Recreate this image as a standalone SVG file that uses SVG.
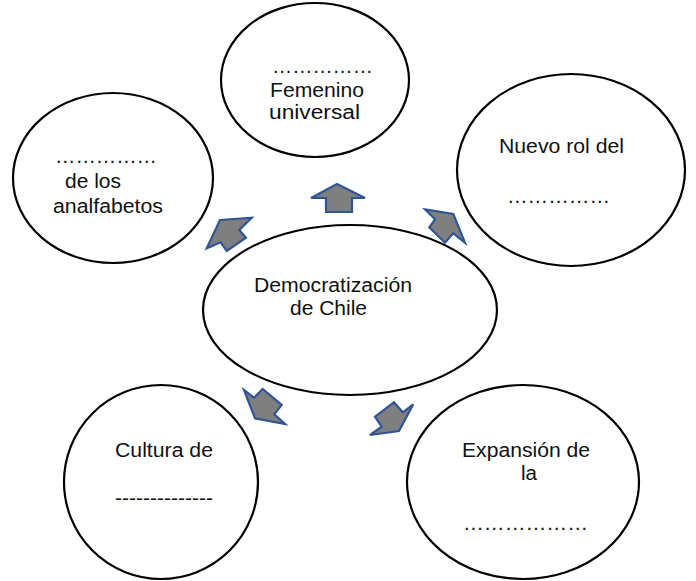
<svg xmlns="http://www.w3.org/2000/svg" width="696" height="581" viewBox="0 0 696 581">
<style>
.node ellipse{fill:#fff;stroke:#000;stroke-width:2.2}
text{font-family:"Liberation Sans",Arial,sans-serif;font-size:20px;fill:#111}
.arr polygon{fill:#7f7f7f;stroke:#2f5597;stroke-width:2.2;stroke-linejoin:miter}
</style>
<rect width="696" height="581" fill="#fff"/>
<g id="node-sufragio" class="node">
<ellipse cx="315" cy="80" rx="94" ry="77"/>
<text x="272" y="73" textLength="101" lengthAdjust="spacingAndGlyphs">……………</text>
<text x="270" y="97" textLength="94" lengthAdjust="spacingAndGlyphs">Femenino</text>
<text x="269" y="119" textLength="91" lengthAdjust="spacingAndGlyphs">universal</text>
</g>
<g id="node-analfabetos" class="node">
<ellipse cx="113" cy="178" rx="100" ry="85"/>
<text x="55" y="163" textLength="102" lengthAdjust="spacingAndGlyphs">……………</text>
<text x="65" y="188" textLength="56" lengthAdjust="spacingAndGlyphs">de los</text>
<text x="53" y="213" textLength="110" lengthAdjust="spacingAndGlyphs">analfabetos</text>
</g>
<g id="node-nuevo-rol" class="node">
<ellipse cx="571" cy="170" rx="114" ry="96"/>
<text x="499" y="153" textLength="125" lengthAdjust="spacingAndGlyphs">Nuevo rol del</text>
<text x="507" y="203" textLength="103" lengthAdjust="spacingAndGlyphs">……………</text>
</g>
<g id="node-centro" class="node">
<ellipse cx="350" cy="310" rx="147" ry="85"/>
<text x="254" y="292" textLength="158" lengthAdjust="spacingAndGlyphs">Democratización</text>
<text x="290" y="315" textLength="77" lengthAdjust="spacingAndGlyphs">de Chile</text>
</g>
<g id="node-cultura" class="node">
<ellipse cx="161" cy="482" rx="97" ry="97"/>
<text x="115" y="457" textLength="98" lengthAdjust="spacingAndGlyphs">Cultura de</text>
<text x="115" y="505" textLength="98" lengthAdjust="spacingAndGlyphs">--------------</text>
</g>
<g id="node-expansion" class="node">
<ellipse cx="523" cy="482" rx="116" ry="97"/>
<text x="462" y="457" textLength="128" lengthAdjust="spacingAndGlyphs">Expansión de</text>
<text x="521" y="480" textLength="16" lengthAdjust="spacingAndGlyphs">la</text>
<text x="463" y="530" textLength="125" lengthAdjust="spacingAndGlyphs">………………</text>
</g>
<g id="connectors" class="arr">
<polygon points="337,184 365,198 352,198 352,212 326,212 326,198 311,198"/>
<polygon points="220,220 251.7,217.7 239.3,230 246,237.7 226.7,251 220.7,242.3 206.7,248.3"/>
<polygon points="453.3,214 465,242.7 453.3,233.3 445,242.7 429.3,227.3 435,219.3 425,209.3"/>
<polygon points="255,418.3 285,424 274.3,414.3 281.7,405 262.7,389 254,397.7 244,390"/>
<polygon points="399,431 413.3,404.3 402.7,412.3 394,402.3 375,416.7 381.7,426.7 370,435"/>
</g>
</svg>
